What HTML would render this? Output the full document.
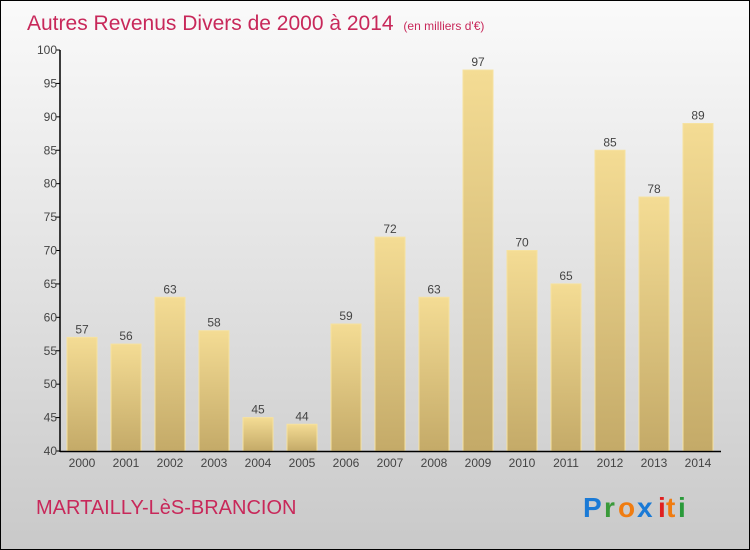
<!DOCTYPE html>
<html><head><meta charset="utf-8"><style>
html,body{margin:0;padding:0}
body{width:750px;height:550px;overflow:hidden}
#wrap{position:relative;width:748px;height:548px;border:1px solid #000;background:linear-gradient(#fafafa,#e2e2e2 50%,#c9c9c9);font-family:"Liberation Sans",sans-serif}
</style></head><body>
<div id="wrap">
<svg id="chart" width="748" height="548" style="position:absolute;left:0;top:0">
<defs>
<linearGradient id="bg" x1="0" y1="0" x2="0" y2="1"><stop offset="0" stop-color="#f4dc94"/><stop offset="1" stop-color="#c4aa68"/></linearGradient>
</defs>
<text x="26" y="29" font-size="21" fill="#c8285a">Autres Revenus Divers de 2000 à 2014 <tspan font-size="12" dx="4">(en milliers d'€)</tspan></text>
<text x="35" y="513" font-size="20" fill="#c8285a">MARTAILLY-LèS-BRANCION</text>
<g font-size="28" font-weight="bold">
<text x="582" y="516" fill="#1a7ad6">P</text><text x="603" y="516" fill="#3a9a3a">r</text><text x="617" y="516" fill="#f07c10">o</text><text x="636" y="516" fill="#1a7ad6">x</text><text x="657" y="516" fill="#e02020">i</text><text x="665" y="516" fill="#f07c10">t</text><text x="677" y="516" fill="#2a9a3a">i</text>
</g>
</svg>
</div>
<script>
const categories=["2000","2001","2002","2003","2004","2005","2006","2007","2008","2009","2010","2011","2012","2013","2014"];
const values=[57,56,63,58,45,44,59,72,63,97,70,65,85,78,89];
const yTicks=[40,45,50,55,60,65,70,75,80,85,90,95,100];
const svg=document.getElementById('chart');
const NS='http://www.w3.org/2000/svg';
const x0=59,band=44,yMin=40,yMax=100,yTop=49,yBot=450;
const y=v=>yBot-(v-yMin)/(yMax-yMin)*(yBot-yTop);
const xc=i=>x0+band/2+band*i;
function mk(t,a){const e=document.createElementNS(NS,t);for(const k in a)e.setAttribute(k,a[k]);svg.appendChild(e);return e;}
categories.forEach((c,i)=>{
 const r=mk('rect',{x:xc(i)-15,y:y(values[i]),width:30,height:yBot-y(values[i]),fill:'url(#bg)',stroke:'#f6e2a0','stroke-width':1});
 
 
 const t=mk('text',{x:xc(i),y:y(values[i])-4,'text-anchor':'middle','font-size':12,fill:'#444'});
 t.textContent=values[i];
 
 
 const xl=mk('text',{x:xc(i),y:466,'text-anchor':'middle','font-size':12,fill:'#444'});
 xl.textContent=c;
 
 
});
yTicks.forEach(v=>{
 const l=mk('line',{x1:x0-4,x2:x0,y1:y(v),y2:y(v),stroke:'#000'});
 
 
 const t=mk('text',{x:x0-3,y:y(v)+4,'text-anchor':'end','font-size':12,fill:'#444'});
 t.textContent=v;
 
 
});
const ya=mk('line',{x1:x0,x2:x0,y1:yTop,y2:yBot+1,stroke:'#000','stroke-width':1.5});


const xa=mk('line',{x1:x0,x2:x0+band*15+1,y1:yBot+0.5,y2:yBot+0.5,stroke:'#000','stroke-width':1.5});


</script>
</body></html>
